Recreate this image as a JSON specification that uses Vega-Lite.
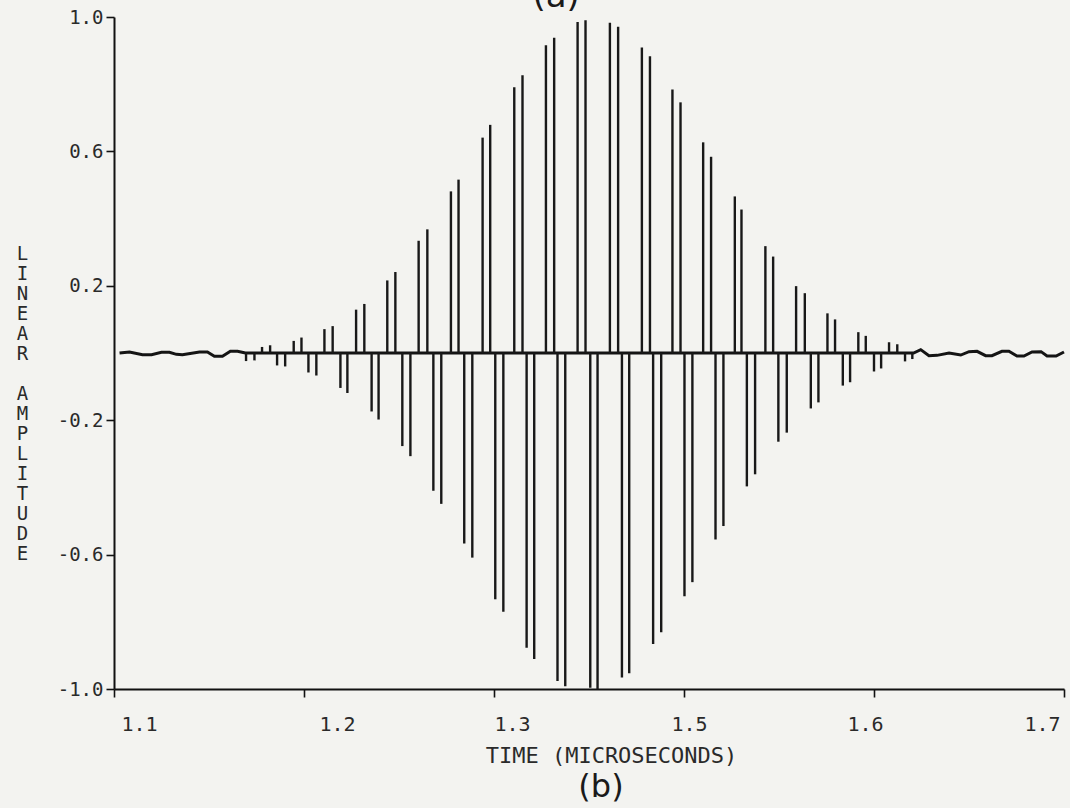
{
  "$schema": "https://vega.github.io/schema/vega-lite/v6.json",
  "autosize": {"type": "none"},
  "padding": {"left": 114, "top": 17, "right": 6, "bottom": 119},
  "width": 950,
  "height": 672,
  "background": "#f3f3f0",
  "title": {
    "text": "(b)",
    "orient": "bottom",
    "anchor": "middle",
    "frame": "group",
    "dx": 12,
    "offset": 6,
    "font": "DejaVu Sans",
    "fontSize": 32,
    "fontWeight": "normal",
    "color": "#1a1a1a"
  },
  "config": {
    "view": {"stroke": null},
    "axis": {
      "grid": false,
      "domainColor": "#111111",
      "domainWidth": 2,
      "tickColor": "#111111",
      "tickWidth": 1.6,
      "tickSize": 8,
      "labelFont": "DejaVu Sans Mono",
      "labelColor": "#2a2a2a",
      "titleFont": "DejaVu Sans Mono",
      "titleFontWeight": "normal",
      "titleColor": "#2a2a2a"
    }
  },
  "datasets": {
    "pulse": [
      {"t": 1.1834, "amp": -0.024}, {"t": 1.1887, "amp": -0.022},
      {"t": 1.1935, "amp": 0.018}, {"t": 1.1986, "amp": 0.023},
      {"t": 1.2030, "amp": -0.037}, {"t": 1.2081, "amp": -0.040},
      {"t": 1.2135, "amp": 0.036}, {"t": 1.2184, "amp": 0.046},
      {"t": 1.2228, "amp": -0.058}, {"t": 1.2278, "amp": -0.067},
      {"t": 1.2329, "amp": 0.071}, {"t": 1.2381, "amp": 0.080},
      {"t": 1.2430, "amp": -0.104}, {"t": 1.2474, "amp": -0.119},
      {"t": 1.2529, "amp": 0.129}, {"t": 1.2581, "amp": 0.146},
      {"t": 1.2627, "amp": -0.174}, {"t": 1.2671, "amp": -0.198},
      {"t": 1.2726, "amp": 0.216}, {"t": 1.2777, "amp": 0.241},
      {"t": 1.2821, "amp": -0.277}, {"t": 1.2872, "amp": -0.307},
      {"t": 1.2924, "amp": 0.334}, {"t": 1.2979, "amp": 0.368},
      {"t": 1.3017, "amp": -0.410}, {"t": 1.3067, "amp": -0.449},
      {"t": 1.3128, "amp": 0.481}, {"t": 1.3176, "amp": 0.516},
      {"t": 1.3212, "amp": -0.567}, {"t": 1.3263, "amp": -0.609},
      {"t": 1.3328, "amp": 0.641}, {"t": 1.3376, "amp": 0.679},
      {"t": 1.3408, "amp": -0.733}, {"t": 1.3459, "amp": -0.770},
      {"t": 1.3528, "amp": 0.791}, {"t": 1.3580, "amp": 0.827},
      {"t": 1.3606, "amp": -0.877}, {"t": 1.3654, "amp": -0.911},
      {"t": 1.3728, "amp": 0.916}, {"t": 1.3780, "amp": 0.938},
      {"t": 1.3801, "amp": -0.976}, {"t": 1.3850, "amp": -0.992},
      {"t": 1.3928, "amp": 0.985}, {"t": 1.3978, "amp": 0.990},
      {"t": 1.4008, "amp": -0.996}, {"t": 1.4054, "amp": -1.0},
      {"t": 1.4132, "amp": 0.983}, {"t": 1.4184, "amp": 0.971},
      {"t": 1.4208, "amp": -0.966}, {"t": 1.4254, "amp": -0.953},
      {"t": 1.4334, "amp": 0.909}, {"t": 1.4385, "amp": 0.883},
      {"t": 1.4405, "amp": -0.866}, {"t": 1.4456, "amp": -0.831},
      {"t": 1.4527, "amp": 0.784}, {"t": 1.4578, "amp": 0.746},
      {"t": 1.4603, "amp": -0.724}, {"t": 1.4653, "amp": -0.682},
      {"t": 1.4721, "amp": 0.627}, {"t": 1.4771, "amp": 0.584},
      {"t": 1.4799, "amp": -0.555}, {"t": 1.4849, "amp": -0.515},
      {"t": 1.4921, "amp": 0.466}, {"t": 1.4963, "amp": 0.427},
      {"t": 1.4997, "amp": -0.397}, {"t": 1.5049, "amp": -0.361},
      {"t": 1.5114, "amp": 0.318}, {"t": 1.5163, "amp": 0.287},
      {"t": 1.5196, "amp": -0.264}, {"t": 1.5249, "amp": -0.237},
      {"t": 1.5308, "amp": 0.199}, {"t": 1.5363, "amp": 0.178},
      {"t": 1.5401, "amp": -0.165}, {"t": 1.5449, "amp": -0.147},
      {"t": 1.5506, "amp": 0.118}, {"t": 1.5554, "amp": 0.100},
      {"t": 1.5603, "amp": -0.097}, {"t": 1.5649, "amp": -0.087},
      {"t": 1.5701, "amp": 0.062}, {"t": 1.5748, "amp": 0.051},
      {"t": 1.5800, "amp": -0.055}, {"t": 1.5845, "amp": -0.046},
      {"t": 1.5895, "amp": 0.032}, {"t": 1.5947, "amp": 0.026},
      {"t": 1.5996, "amp": -0.025}, {"t": 1.6042, "amp": -0.018}
    ],
    "trace": [
      {"t": 1.1035, "amp": 0.0}, {"t": 1.1098, "amp": 0.003},
      {"t": 1.1180, "amp": -0.005}, {"t": 1.1237, "amp": -0.005},
      {"t": 1.1300, "amp": 0.002}, {"t": 1.1350, "amp": 0.002},
      {"t": 1.1394, "amp": -0.004}, {"t": 1.1432, "amp": -0.005},
      {"t": 1.1540, "amp": 0.003}, {"t": 1.1590, "amp": 0.003},
      {"t": 1.1634, "amp": -0.010}, {"t": 1.1685, "amp": -0.010},
      {"t": 1.1735, "amp": 0.005}, {"t": 1.1780, "amp": 0.005},
      {"t": 1.1830, "amp": 0.0}, {"t": 1.6050, "amp": 0.0},
      {"t": 1.6095, "amp": 0.010}, {"t": 1.6147, "amp": -0.008},
      {"t": 1.6198, "amp": -0.007}, {"t": 1.6274, "amp": 0.0},
      {"t": 1.6348, "amp": -0.006}, {"t": 1.6400, "amp": 0.004},
      {"t": 1.6451, "amp": 0.005}, {"t": 1.6505, "amp": -0.008},
      {"t": 1.6545, "amp": -0.008}, {"t": 1.6608, "amp": 0.005},
      {"t": 1.6652, "amp": 0.005}, {"t": 1.6703, "amp": -0.009},
      {"t": 1.6747, "amp": -0.009}, {"t": 1.6798, "amp": 0.003},
      {"t": 1.6855, "amp": 0.004}, {"t": 1.6893, "amp": -0.009},
      {"t": 1.6950, "amp": -0.009}, {"t": 1.7000, "amp": 0.003}
    ],
    "panel": [{"label": "(a)"}]
  },
  "layer": [
    {
      "data": {"name": "trace"},
      "mark": {"type": "line", "color": "#141414", "strokeWidth": 3},
      "encoding": {
        "x": {
          "field": "t",
          "type": "quantitative",
          "scale": {"domain": [1.1, 1.7], "nice": false, "zero": false},
          "axis": {
            "title": "TIME (MICROSECONDS)",
            "values": [1.1, 1.22, 1.34, 1.46, 1.58, 1.7],
            "format": ".1f",
            "labelFontSize": 20,
            "labelPadding": 17,
            "labelFlush": false,
            "labelBaseline": "top",
            "labelOffset": {
              "condition": [
                {"test": "datum.value < 1.15", "value": 25},
                {"test": "datum.value < 1.3", "value": 33},
                {"test": "datum.value < 1.4", "value": 18},
                {"test": "datum.value < 1.5", "value": 5},
                {"test": "datum.value < 1.65", "value": -9}
              ],
              "value": -22
            },
            "titleFontSize": 22,
            "titleX": 497,
            "titleY": 66,
            "titleAlign": "center",
            "titleBaseline": "middle"
          }
        },
        "y": {
          "field": "amp",
          "type": "quantitative",
          "scale": {"domain": [-1, 1], "nice": false},
          "axis": {
            "title": ["L", "I", "N", "E", "A", "R", "\u200b", "A", "M", "P", "L", "I", "T", "U", "D", "E"],
            "values": [1, 0.6, 0.2, -0.2, -0.6, -1],
            "labelExpr": "(datum.value < 0 ? '-' : '') + format(abs(datum.value), '.1f')",
            "labelFontSize": 19,
            "labelPadding": 3,
            "labelBaseline": "middle",
            "titleAngle": 0,
            "titleFontSize": 19,
            "titleLineHeight": 20,
            "titleX": -92,
            "titleY": 236,
            "titleAlign": "center",
            "titleBaseline": "middle"
          }
        }
      }
    },
    {
      "data": {"name": "pulse"},
      "mark": {"type": "rule", "color": "#181818", "strokeWidth": 2.4},
      "encoding": {
        "x": {"field": "t", "type": "quantitative"},
        "y": {"field": "amp", "type": "quantitative"},
        "y2": {"datum": 0}
      }
    },
    {
      "data": {"name": "panel"},
      "mark": {
        "type": "text",
        "font": "DejaVu Sans",
        "fontSize": 34,
        "color": "#1a1a1a",
        "baseline": "alphabetic",
        "align": "center",
        "dy": -10
      },
      "encoding": {
        "x": {"datum": 1.3792},
        "y": {"datum": 1},
        "text": {"field": "label"}
      }
    }
  ]
}
